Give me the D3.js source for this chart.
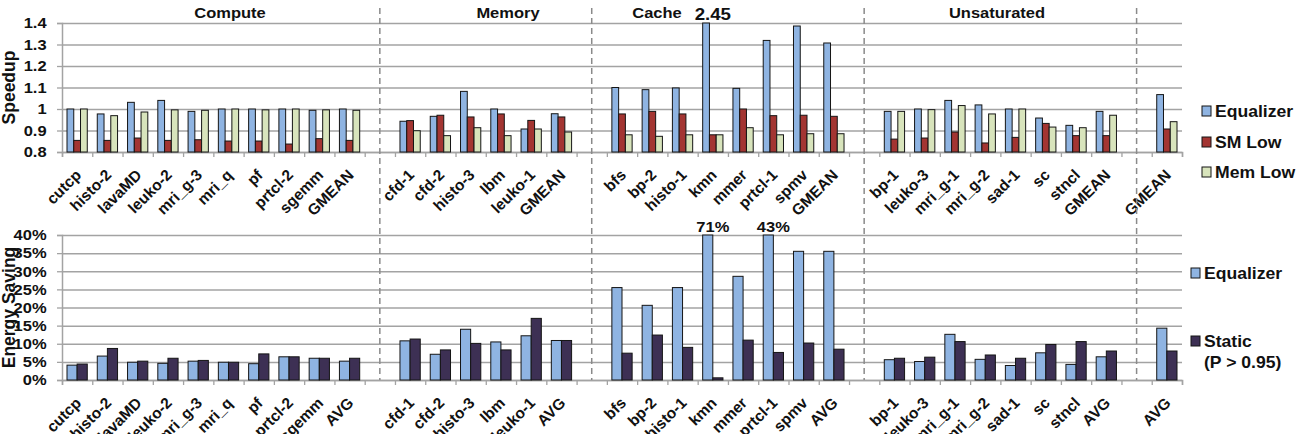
<!DOCTYPE html>
<html>
<head>
<meta charset="utf-8">
<script src="https://cdn.jsdelivr.net/npm/d3@7"></script>
<style>
  body { margin: 0; background: #fff; }
  svg text { font-family: "Liberation Sans", Arial, sans-serif; font-weight: bold; fill: #111; }
</style>
</head>
<body>
<script>
// '' marks the empty slot between two benchmark groups
const speedupApps = ['cutcp', 'histo-2', 'lavaMD', 'leuko-2', 'mri_g-3', 'mri_q', 'pf', 'prtcl-2', 'sgemm', 'GMEAN', '',
  'cfd-1', 'cfd-2', 'histo-3', 'lbm', 'leuko-1', 'GMEAN', '',
  'bfs', 'bp-2', 'histo-1', 'kmn', 'mmer', 'prtcl-1', 'spmv', 'GMEAN', '',
  'bp-1', 'leuko-3', 'mri_g-1', 'mri_g-2', 'sad-1', 'sc', 'stncl', 'GMEAN', '',
  'GMEAN'];
const energyApps = speedupApps.map(function(d) { return d === 'GMEAN' ? 'AVG' : d; });

const sectionTitles = ['Compute', 'Memory', 'Cache', 'Unsaturated'];

const eqSpeedup = [1.00, 0.977, 1.031, 1.040, 0.989, 1.00, 1.00, 1.00, 0.994, 1.00, null,
  0.943, 0.966, 1.082, 1.00, 0.907, 0.978, null,
  1.10, 1.09, 1.098, 2.45, 1.096, 1.319, 1.386, 1.307, null,
  0.989, 1.00, 1.04, 1.019, 1.00, 0.958, 0.924, 0.989, null,
  1.067];
const smLowSpeedup = [0.854, 0.854, 0.865, 0.854, 0.857, 0.851, 0.851, 0.837, 0.862, 0.854, null,
  0.946, 0.971, 0.963, 0.977, 0.947, 0.963, null,
  0.977, 0.989, 0.977, 0.88, 1.00, 0.969, 0.971, 0.966, null,
  0.86, 0.865, 0.893, 0.842, 0.868, 0.933, 0.876, 0.876, null,
  0.907];
const memLowSpeedup = [1.00, 0.969, 0.986, 0.996, 0.994, 1.00, 0.996, 1.00, 0.996, 0.994, null,
  0.899, 0.876, 0.913, 0.876, 0.907, 0.893, null,
  0.88, 0.873, 0.88, 0.88, 0.913, 0.88, 0.885, 0.885, null,
  0.989, 0.997, 1.016, 0.977, 1.00, 0.916, 0.913, 0.971, null,
  0.941];

const eqEnergy = [0.041, 0.066, 0.049, 0.046, 0.052, 0.049, 0.045, 0.064, 0.060, 0.052, null,
  0.108, 0.071, 0.140, 0.105, 0.122, 0.109, null,
  0.255, 0.206, 0.255, 0.71, 0.286, 0.43, 0.355, 0.355, null,
  0.056, 0.051, 0.126, 0.057, 0.040, 0.075, 0.043, 0.064, null,
  0.143];
const staticEnergy = [0.044, 0.087, 0.052, 0.060, 0.054, 0.049, 0.072, 0.064, 0.060, 0.060, null,
  0.113, 0.083, 0.101, 0.083, 0.170, 0.109, null,
  0.074, 0.124, 0.090, 0.006, 0.110, 0.076, 0.102, 0.085, null,
  0.060, 0.063, 0.106, 0.069, 0.060, 0.098, 0.106, 0.080, null,
  0.080];

const speedupTicks = [0.8, 0.9, 1.0, 1.1, 1.2, 1.3, 1.4];
const energyTicks = [0, 0.05, 0.10, 0.15, 0.20, 0.25, 0.30, 0.35, 0.40];

// layout
const WIDTH = 1299, HEIGHT = 434;
const LEFT = 62, RIGHT = 1182;
const SX = 1.1;   // the source lettering is a bit wider than Arial
const titleX = [230, 508, 657, 997];
const GRID = '#a3a3a3';
const BLUE = '#8fb4e2', RED = '#a33532', GREEN = '#d8e4bc', PURPLE = '#3d3054';

var stretch = function(x, y) {
  return 'translate(' + x + ',' + y + ') scale(' + SX + ',1)';
};

var svg = d3.select('body').append('svg')
    .attr('width', WIDTH)
    .attr('height', HEIGHT);

var n = speedupApps.length;
var x = d3.scaleBand().domain(d3.range(n)).range([LEFT, RIGHT]);
var xEdge = d3.scaleLinear().domain([0, n]).range([LEFT, RIGHT]);
var bw = x.bandwidth();

var drawPanel = function(opt) {
  var y = opt.y;
  var bottom = y.range()[0];

  // grid
  svg.append('g')
      .attr('transform', 'translate(' + LEFT + ',0)')
      .call(d3.axisLeft(y).tickValues(opt.ticks).tickSize(-(RIGHT - LEFT)).tickFormat(''))
      .call(function(g) {
        g.select('.domain').remove();
        g.selectAll('line').attr('stroke', GRID).attr('stroke-width', 1.5);
      });

  // y axis with labels
  svg.append('g')
      .attr('transform', 'translate(' + LEFT + ',0)')
      .call(d3.axisLeft(y).tickValues(opt.ticks).tickSize(5).tickPadding(9).tickFormat(opt.format))
      .call(function(g) {
        g.select('.domain').attr('stroke', GRID).attr('stroke-width', 1.5);
        g.selectAll('line').attr('stroke', GRID).attr('stroke-width', 1.3);
        g.selectAll('text')
            .attr('font-size', 15)
            .attr('font-family', null)
            .attr('transform', 'scale(' + SX + ',1)');
      });

  // x axis, ticks on the slot edges
  svg.append('g')
      .attr('transform', 'translate(0,' + bottom + ')')
      .call(d3.axisBottom(xEdge).tickValues(d3.range(n + 1)).tickSize(5).tickFormat(''))
      .call(function(g) {
        g.select('.domain').attr('stroke', GRID).attr('stroke-width', 1.5);
        g.selectAll('line').attr('stroke', GRID).attr('stroke-width', 1.3);
      });

  // bars
  var sub = d3.scaleBand().domain(d3.range(opt.series.length))
      .range([opt.inset, bw - opt.inset]);
  opt.series.forEach(function(values, si) {
    svg.append('g').selectAll('rect')
        .data(values.map(function(v, i) { return {i: i, v: v}; })
          .filter(function(d) { return d.v !== null; }))
        .enter()
        .append('rect')
        .attr('x', function(d) { return x(d.i) + sub(si); })
        .attr('y', function(d) { return y(d.v); })
        .attr('width', sub.bandwidth())
        .attr('height', function(d) { return bottom - y(d.v); })
        .attr('fill', opt.colors[si])
        .attr('stroke', '#151515')
        .attr('stroke-width', 1);
  });

  // values that run off the top
  var top = y.domain()[1];
  svg.append('g').selectAll('text')
      .data(opt.series[0].map(function(v, i) { return {i: i, v: v}; })
        .filter(function(d) { return d.v !== null && d.v > top; }))
      .enter()
      .append('text')
      .attr('transform', function(d) { return stretch(x(d.i) + bw / 2, y.range()[1] - 3); })
      .attr('text-anchor', 'middle')
      .attr('font-size', opt.overSize)
      .text(function(d) { return opt.overFormat(d.v); });

  // category labels
  svg.append('g').selectAll('text')
      .data(opt.labels.map(function(l, i) { return {i: i, l: l}; })
        .filter(function(d) { return d.l !== ''; }))
      .enter()
      .append('text')
      .attr('transform', function(d) {
        return 'translate(' + (x(d.i) + bw / 2 + 5) + ',' + (bottom + 24) + ') rotate(-45)';
      })
      .attr('text-anchor', 'end')
      .attr('font-size', 15.5)
      .text(function(d) { return d.l; });

  // axis title
  svg.append('text')
      .attr('transform', 'translate(' + opt.titleX + ',' + (y.range()[0] + y.range()[1]) / 2 + ') rotate(-90)')
      .attr('text-anchor', 'middle')
      .attr('font-size', 17.5)
      .text(opt.title);

  // legend
  var lg = svg.append('g');
  opt.legend.forEach(function(item, k) {
    lg.append('rect')
        .attr('x', opt.legendX)
        .attr('y', item.y - 5)
        .attr('width', 9)
        .attr('height', 10)
        .attr('fill', opt.colors[k])
        .attr('stroke', '#151515')
        .attr('stroke-width', 1);
    item.lines.forEach(function(line, j) {
      lg.append('text')
          .attr('transform', stretch(opt.legendX + 13, item.y + 6 + j * 21))
          .attr('font-size', 16)
          .text(line);
    });
  });
};

drawPanel({
  y: d3.scaleLinear().domain([0.8, 1.4]).range([152, 23]).clamp(true),
  ticks: speedupTicks,
  format: function(d) { return d3.format('.1f')(d).replace('.0', ''); },
  series: [eqSpeedup, smLowSpeedup, memLowSpeedup],
  colors: [BLUE, RED, GREEN],
  inset: 5,
  labels: speedupApps,
  overSize: 17,
  overFormat: d3.format('.2f'),
  title: 'Speedup',
  titleX: 15,
  legendX: 1202,
  legend: [
    {y: 111, lines: ['Equalizer']},
    {y: 142, lines: ['SM Low']},
    {y: 172, lines: ['Mem Low']}
  ]
});

drawPanel({
  y: d3.scaleLinear().domain([0, 0.4]).range([380, 235]).clamp(true),
  ticks: energyTicks,
  format: d3.format('.0%'),
  series: [eqEnergy, staticEnergy],
  colors: [BLUE, PURPLE],
  inset: 5,
  labels: energyApps,
  overSize: 15,
  overFormat: d3.format('.0%'),
  title: 'Energy Saving',
  titleX: 15,
  legendX: 1191,
  legend: [
    {y: 273, lines: ['Equalizer']},
    {y: 341, lines: ['Static', '(P > 0.95)']}
  ]
});

// section titles
svg.append('g').selectAll('text')
    .data(sectionTitles)
    .enter()
    .append('text')
    .attr('transform', function(d, i) { return stretch(titleX[i], 18); })
    .attr('text-anchor', 'middle')
    .attr('font-size', 15)
    .text(function(d) { return d; });

// dashed separators through the empty slots
svg.append('g').selectAll('line')
    .data(d3.range(n).filter(function(i) { return speedupApps[i] === ''; }))
    .enter()
    .append('line')
    .attr('x1', function(i) { return x(i) + bw / 2; })
    .attr('x2', function(i) { return x(i) + bw / 2; })
    .attr('y1', 8)
    .attr('y2', 380)
    .attr('stroke', '#8a8a8a')
    .attr('stroke-width', 1.5)
    .attr('stroke-dasharray', '6,4');
</script>
</body>
</html>
